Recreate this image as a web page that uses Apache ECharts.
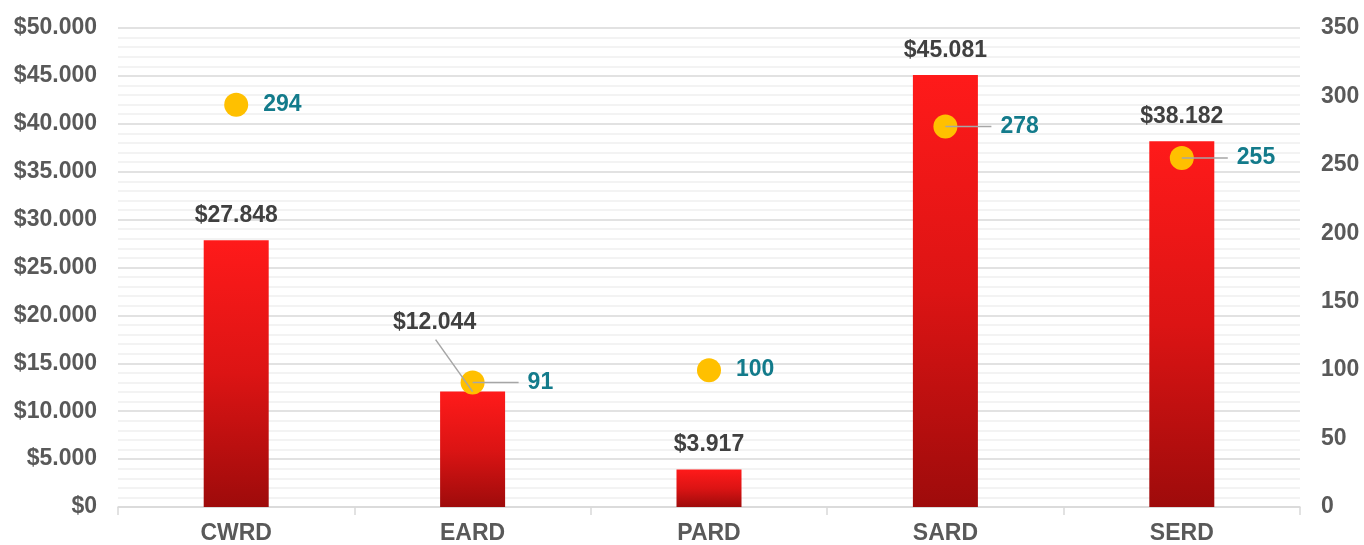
<!DOCTYPE html>
<html><head><meta charset="utf-8">
<script src="https://cdn.jsdelivr.net/npm/echarts@6/dist/echarts.min.js"></script>
<style>html,body{margin:0;padding:0;background:#fff}#c{width:1364px;height:545px}</style>
</head><body><div id="c"></div>
<script>
const categories = ["CWRD", "EARD", "PARD", "SARD", "SERD"];
const amounts = [27848, 12044, 3917, 45081, 38182];
const counts = [294, 91, 100, 278, 255];

function fmtMoney(v) {
  return "$" + String(Math.round(v)).replace(/\B(?=(\d{3})+(?!\d))/g, ".");
}

const FONT = "Liberation Sans, Arial, sans-serif";
const FS = 23;
const barLeader = [false, true, false, false, false];
const dotLeader = [false, true, false, true, true];
const LINE = "#a6a6a6";

const chart = echarts.init(document.getElementById("c"));
chart.setOption({
  animation: false,
  grid: { left: 118, right: 64, top: 28, bottom: 38 },
  xAxis: {
    type: "category",
    data: categories,
    axisLine: { lineStyle: { color: "#d9d9d9", width: 1.5 } },
    axisTick: { show: true, length: 8, lineStyle: { color: "#d9d9d9", width: 1.5 } },
    axisLabel: { color: "#595959", fontWeight: "bold", fontSize: FS, fontFamily: FONT, margin: 15 }
  },
  yAxis: [
    {
      type: "value", min: 0, max: 50000, interval: 5000,
      axisLabel: { color: "#595959", fontWeight: "bold", fontSize: FS, fontFamily: FONT, margin: 21, formatter: fmtMoney },
      splitLine: { lineStyle: { color: "#d9d9d9", width: 1.5 } },
      minorTick: { show: false, splitNumber: 5 },
      minorSplitLine: { show: true, lineStyle: { color: "#efefef", width: 1.5 } },
      axisLine: { show: false }, axisTick: { show: false }
    },
    {
      type: "value", min: 0, max: 350, interval: 50,
      axisLabel: { color: "#595959", fontWeight: "bold", fontSize: FS, fontFamily: FONT, margin: 21 },
      splitLine: { show: false },
      axisLine: { show: false }, axisTick: { show: false }
    }
  ],
  series: [
    {
      type: "bar",
      data: amounts,
      barWidth: 65,
      yAxisIndex: 0,
      itemStyle: {
        color: new echarts.graphic.LinearGradient(0, 0, 0, 1, [
          { offset: 0, color: "#ff1a1a" },
          { offset: 0.5, color: "#dc1414" },
          { offset: 1, color: "#9e0b0b" }
        ])
      },
      label: {
        show: true, position: "top", distance: 13,
        color: "#404040", fontWeight: "bold", fontSize: FS, fontFamily: FONT,
        formatter: p => fmtMoney(p.value)
      },
      labelLayout: function (params) {
        if (barLeader[params.dataIndex]) return { dx: -38, dy: -44 };
        return {};
      },
      emphasis: { disabled: true },
      z: 2
    },
    {
      type: "scatter",
      data: counts,
      yAxisIndex: 1,
      symbol: "circle",
      symbolSize: 24,
      itemStyle: { color: "#ffc000", opacity: 1 },
      label: {
        show: true, position: "right", distance: 15,
        color: "#137b8b", fontWeight: "bold", fontSize: FS, fontFamily: FONT
      },
      labelLayout: function (params) {
        if (dotLeader[params.dataIndex]) return { dx: 28 };
        return {};
      },
      emphasis: { disabled: true },
      z: 3
    },
    {
      type: "custom",
      yAxisIndex: 0,
      silent: true,
      data: amounts.map((v, i) => [i, v]).filter((d, i) => barLeader[i]),
      renderItem: function (params, api) {
        const p = api.coord([api.value(0), api.value(1)]);
        return {
          type: "line",
          shape: { x1: p[0] - 37, y1: p[1] - 52, x2: p[0], y2: p[1] },
          style: { stroke: LINE, lineWidth: 1.5 }
        };
      },
      z: 4
    },
    {
      type: "custom",
      yAxisIndex: 1,
      silent: true,
      data: counts.map((v, i) => [i, v]).filter((d, i) => dotLeader[i]),
      renderItem: function (params, api) {
        const p = api.coord([api.value(0), api.value(1)]);
        return {
          type: "line",
          shape: { x1: p[0], y1: p[1], x2: p[0] + 46, y2: p[1] },
          style: { stroke: LINE, lineWidth: 1.5 }
        };
      },
      z: 4
    }
  ]
});
</script></body></html>
